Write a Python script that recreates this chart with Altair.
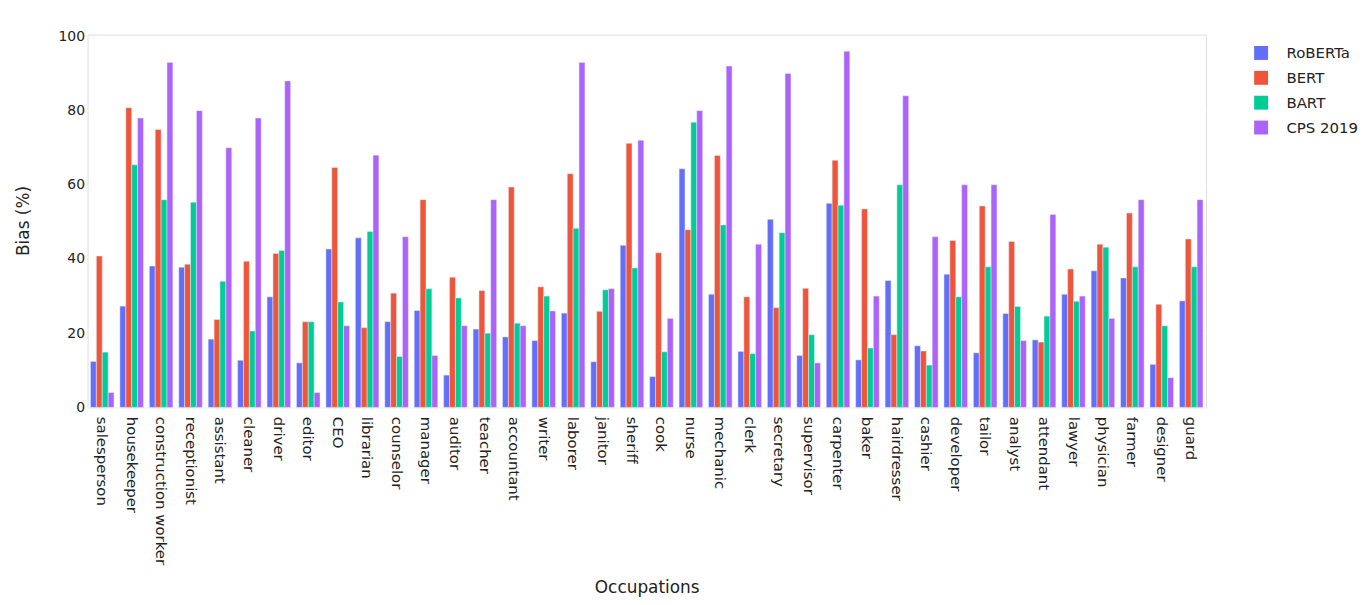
import altair as alt
import pandas as pd

occupations = ["salesperson", "housekeeper", "construction worker", "receptionist", "assistant",
               "cleaner", "driver", "editor", "CEO", "librarian", "counselor", "manager", "auditor",
               "teacher", "accountant", "writer", "laborer", "janitor", "sheriff", "cook", "nurse",
               "mechanic", "clerk", "secretary", "supervisor", "carpenter", "baker", "hairdresser",
               "cashier", "developer", "tailor", "analyst", "attendant", "lawyer", "physician",
               "farmer", "designer", "guard"]

roberta = [12.4, 27.3, 38.1, 37.8, 18.4, 12.7, 29.8, 12.0, 42.7, 45.7, 23.1, 26.1, 8.7, 21.1, 19.0,
           18.0, 25.4, 12.3, 43.7, 8.3, 64.3, 30.5, 15.1, 50.7, 14.0, 55.0, 12.8, 34.2, 16.6, 35.9,
           14.7, 25.3, 18.2, 30.5, 36.8, 34.9, 11.6, 28.7]
bert = [40.8, 80.8, 74.9, 38.6, 23.7, 39.4, 41.5, 23.1, 64.7, 21.5, 30.8, 56.0, 35.1, 31.5, 59.4,
        32.5, 63.0, 25.9, 71.2, 41.7, 47.9, 67.9, 29.8, 26.9, 32.1, 66.6, 53.5, 19.6, 15.2, 45.0,
        54.3, 44.7, 17.6, 37.3, 44.0, 52.4, 27.8, 45.4]
bart = [14.9, 65.4, 56.0, 55.3, 34.0, 20.6, 42.3, 23.1, 28.4, 47.4, 13.7, 32.0, 29.5, 20.0, 22.7,
        30.0, 48.3, 31.7, 37.6, 15.0, 76.9, 49.2, 14.5, 47.1, 19.6, 54.5, 16.0, 60.0, 11.4, 29.8,
        37.9, 27.2, 24.6, 28.6, 43.2, 37.9, 22.0, 37.9]
cps = [4, 78, 93, 80, 70, 78, 88, 4, 22, 68, 46, 14, 22, 56, 22, 26, 93, 32, 72, 24, 80, 92, 44,
       90, 12, 96, 30, 84, 46, 60, 60, 18, 52, 30, 24, 56, 8, 56]

models = ["RoBERTa", "BERT", "BART", "CPS 2019"]
colors = ["#636EFA", "#EF553B", "#00CC96", "#AB63FA"]

rows = []
for name, vals in zip(models, [roberta, bert, bart, cps]):
    for occ, v in zip(occupations, vals):
        rows.append({"Occupation": occ, "Model": name, "Bias": v})
df = pd.DataFrame(rows)

FONT = "DejaVu Sans"
TXT = "#222222"

chart = alt.Chart(df).mark_bar(stroke="#E5ECF6", strokeWidth=0.5).encode(
    x=alt.X("Occupation:N", sort=occupations,
            scale=alt.Scale(paddingInner=0.2, paddingOuter=0.1),
            axis=alt.Axis(title="Occupations", labelAngle=90, labelFontSize=15, labelFont=FONT,
                          labelColor=TXT, ticks=False, domain=False, labelPadding=9,
                          titleFontSize=17, titleFont=FONT, titleColor=TXT, titleFontWeight="normal",
                          titleY=181, titleBaseline="middle", grid=False, labelLimit=300)),
    xOffset=alt.XOffset("Model:N", sort=models, scale=alt.Scale(paddingInner=0)),
    y=alt.Y("Bias:Q", scale=alt.Scale(domain=[0, 100.5], nice=False),
            axis=alt.Axis(title="Bias (%)", values=[0, 20, 40, 60, 80, 100], labelFontSize=14,
                          labelFont=FONT, labelColor=TXT, ticks=False, domain=False, labelPadding=3,
                          gridColor="white", gridWidth=1, titleFontSize=17, titleFont=FONT,
                          titleColor=TXT, titleFontWeight="normal", titleX=-64, titleY=187,
                          titleAngle=-90, titleBaseline="middle", titleAlign="center")),
    color=alt.Color("Model:N", sort=models, scale=alt.Scale(domain=models, range=colors),
                    legend=alt.Legend(title=None, orient="none", legendX=1173, legendY=11,
                                      symbolType="square", symbolSize=196, symbolStrokeWidth=0,
                                      labelFontSize=15, labelFont=FONT, labelColor=TXT,
                                      labelOffset=18, rowPadding=9)),
).properties(
    width=1125, height=375,
    padding={"left": 80, "top": 25, "right": 157, "bottom": 189},
    autosize=alt.AutoSizeParams(type="none"),
).configure_view(
    fill="#E5ECF6", stroke="transparent", strokeWidth=0
).configure(background="white")

chart.save("out.html", embed_options={"renderer": "svg", "actions": False})
